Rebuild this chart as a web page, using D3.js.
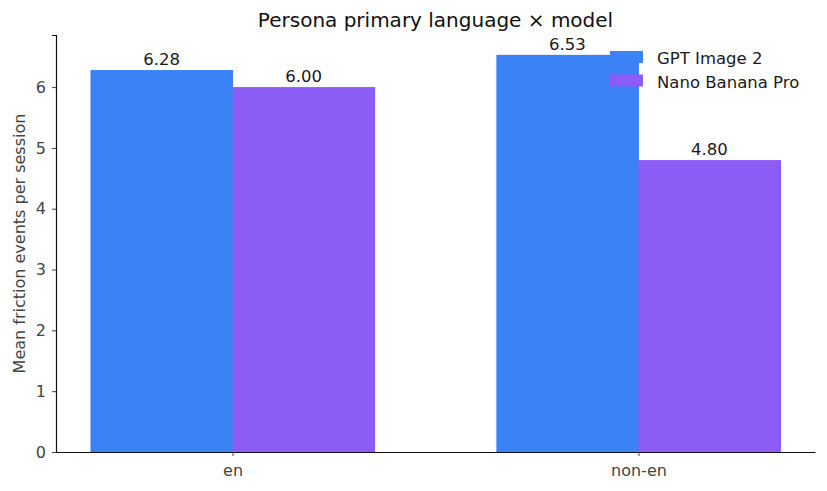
<!DOCTYPE html>
<html>
<head>
<meta charset="utf-8">
<script src="https://cdn.jsdelivr.net/npm/d3@7"></script>
<style>
  body { margin: 0; background: #fff; }
  svg text { font-family: "DejaVu Sans", sans-serif; }
</style>
</head>
<body>
<div id="chart"></div>
<script>
// data
var categories = ["en", "non-en"];
var models = ["GPT Image 2", "Nano Banana Pro"];
var gptValues = [6.28, 6.53];
var nanoValues = [6.00, 4.80];
var yTicks = [0, 1, 2, 3, 4, 5, 6];
var colors = ["#3b82f6", "#8b5cf6"];

var width = 827,
    height = 491;
var margin = { top: 35, right: 12, bottom: 39, left: 56 };
var fontFam = '"DejaVu Sans", sans-serif';

var svg = d3
    .select("#chart")
    .append("svg")
    .attr("width", width)
    .attr("height", height);

// matplotlib-like limits: bars of width 0.35 at -0.175/+0.175 around each index
var barW = 0.35;
var x = d3
    .scaleLinear()
    .domain([-0.435, 1.435])
    .range([margin.left, width - margin.right]);
var y = d3
    .scaleLinear()
    .domain([0, 6.53 * 1.05])
    .range([height - margin.bottom, margin.top]);

var series = [gptValues, nanoValues];
var rows = [];
series.forEach(function (vals, s) {
    vals.forEach(function (v, i) {
        rows.push({ s: s, i: i, v: v });
    });
});

svg.selectAll("rect.bar")
    .data(rows)
    .enter()
    .append("rect")
    .attr("class", "bar")
    .attr("x", function (d) {
        return x(d.i + (d.s === 0 ? -barW : 0));
    })
    .attr("width", x(barW) - x(0) + 0.5)
    .attr("y", function (d) {
        return y(d.v);
    })
    .attr("height", function (d) {
        return y(0) - y(d.v);
    })
    .attr("fill", function (d) {
        return colors[d.s];
    });

// value labels
svg.selectAll("text.val")
    .data(rows)
    .enter()
    .append("text")
    .attr("class", "val")
    .attr("x", function (d) {
        return x(d.i + (d.s === 0 ? -barW / 2 : barW / 2));
    })
    .attr("y", function (d) {
        return y(d.v) - 5;
    })
    .attr("text-anchor", "middle")
    .style("font-size", "16.5px")
    .style("fill", "#1a1a1a")
    .text(function (d) {
        return d.v.toFixed(2);
    });

// y axis
var yAxis = svg
    .append("g")
    .attr("transform", "translate(" + margin.left + ",0)")
    .call(
        d3.axisLeft(y)
            .tickValues(yTicks)
            .tickFormat(d3.format("d"))
            .tickSize(4)
            .tickPadding(6)
    );
yAxis.select(".domain").attr("stroke", "#111").attr("stroke-width", 1.2);
yAxis.selectAll(".tick line").attr("stroke", "#444");
yAxis.selectAll(".tick text")
    .style("font-size", "16px")
    .style("fill", "#444")
    .style("font-family", fontFam);

// x axis
var xAxis = svg
    .append("g")
    .attr("transform", "translate(0," + y(0) + ")")
    .call(
        d3.axisBottom(x)
            .tickValues([0, 1])
            .tickFormat(function (d) {
                return categories[d];
            })
            .tickSize(4)
            .tickPadding(9)
            .tickSizeOuter(0)
    );
xAxis.select(".domain").attr("stroke", "#111").attr("stroke-width", 1.2);
xAxis.selectAll(".tick line").attr("stroke", "#444");
xAxis.selectAll(".tick text")
    .style("font-size", "16px")
    .style("fill", "#444")
    .style("font-family", fontFam);

// title
svg.append("text")
    .attr("x", (margin.left + width - margin.right) / 2)
    .attr("y", 27)
    .attr("text-anchor", "middle")
    .style("font-size", "20px")
    .style("fill", "#111")
    .text("Persona primary language \u00d7 model");

// y label
svg.append("text")
    .attr(
        "transform",
        "translate(25," + (margin.top + height - margin.bottom) / 2 + ") rotate(-90)"
    )
    .attr("text-anchor", "middle")
    .style("font-size", "16px")
    .style("fill", "#444")
    .text("Mean friction events per session");

// legend, no frame
var legend = svg
    .selectAll("g.leg")
    .data(models)
    .enter()
    .append("g")
    .attr("class", "leg")
    .attr("transform", function (d, i) {
        return "translate(610," + (51 + i * 23.5) + ")";
    });
legend.append("rect")
    .attr("width", 33)
    .attr("height", 12)
    .attr("fill", function (d, i) {
        return colors[i];
    });
legend.append("text")
    .attr("x", 47)
    .attr("y", 13)
    .style("font-size", "16.5px")
    .style("fill", "#1a1a1a")
    .text(function (d) {
        return d;
    });
</script>
</body>
</html>
